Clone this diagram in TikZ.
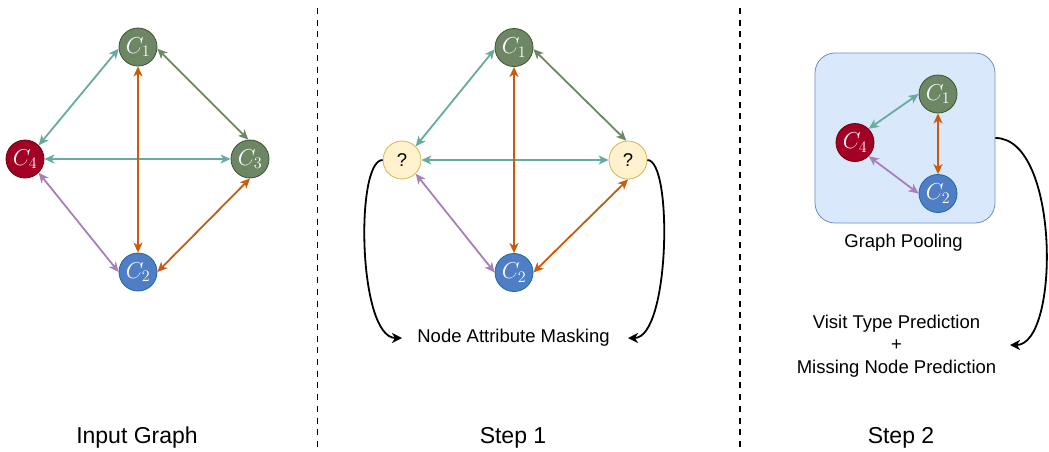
\RequirePackage{fix-cm}
\documentclass[tikz,border=0pt]{standalone}
\usepackage{fontspec}
\setmainfont{Liberation Sans}
\usetikzlibrary{arrows.meta}
\definecolor{gfill}{HTML}{6D8764}
\definecolor{gline}{HTML}{3A5431}
\definecolor{rfill}{HTML}{A20025}
\definecolor{rline}{HTML}{6F0000}
\definecolor{bfill}{HTML}{4F7EC4}
\definecolor{bline}{HTML}{1E66AA}
\definecolor{yfill}{HTML}{FFF2CC}
\definecolor{yline}{HTML}{D6B656}
\definecolor{teal}{HTML}{67AB9F}
\definecolor{orng}{HTML}{CC5A0C}
\definecolor{purp}{HTML}{A680B8}
\definecolor{boxfill}{HTML}{DAE8FC}
\definecolor{boxline}{HTML}{6C8EBF}
\newcommand{\lab}[2]{\fontsize{23}{23}\selectfont$#1_{#2}$}
\tikzset{
  cnode/.style={circle, minimum size=38pt, inner sep=0pt, line width=0.8pt, text=white},
  gnode/.style={cnode, fill=gfill, draw=gline},
  rnode/.style={cnode, fill=rfill, draw=rline},
  bnode/.style={cnode, fill=bfill, draw=bline},
  qnode/.style={cnode, fill=yfill, draw=yline, text=black, font=\fontsize{18.5}{18.5}\selectfont},
  edge/.style={line width=1.8pt, {Stealth[length=10pt,width=9pt,inset=2.8pt]}-{Stealth[length=10pt,width=9pt,inset=2.8pt]}},
  curv/.style={line width=1.8pt, black, -{Stealth[length=10pt,width=10pt,inset=3pt]}},
  lbl/.style={font=\fontsize{18.5}{22.5}\selectfont, inner sep=0pt},
  title/.style={font=\fontsize{23}{23}\selectfont, inner sep=0pt},
  pool/.style={draw=boxline, fill=boxfill, line width=0.8pt, rounded corners=20pt, minimum width=180pt, minimum height=170pt},
  sep/.style={line width=1.3pt, dash pattern=on 6pt off 5.7pt}
}
\begin{document}
\begin{tikzpicture}[x=1pt,y=-1pt]
\useasboundingbox (0,0) rectangle (1049,451);
% separators
\draw[sep] (317.5,8) -- (317.5,451);
\draw[sep] (740,8) -- (740,451);
% panel 1
\node[gnode] (a1) at (138,47) {\lab{C}{1}};
\node[rnode] (a4) at (25,159) {\lab{C}{4}};
\node[gnode] (a3) at (250,159) {\lab{C}{3}};
\node[bnode] (a2) at (138,272) {\lab{C}{2}};
\draw[edge, teal] (a1.185) -- (a4.north east);
\draw[edge, gfill] (a1.355) -- (a3.95);
\draw[edge, teal] (a4.east) -- (a3.west);
\draw[edge, orng] (a1.south) -- (a2.north);
\draw[edge, purp] (a4.south east) -- (a2.west);
\draw[edge, orng] (a3.south) -- (a2.east);
% panel 2
\node[gnode] (b1) at (514,47.5) {\lab{C}{1}};
\node[qnode] (b4) at (402,160) {?};
\node[qnode] (b3) at (628,160) {?};
\node[bnode] (b2) at (514,272.5) {\lab{C}{2}};
\draw[edge, teal] (b1.185) -- (b4.north east);
\draw[edge, gfill] (b1.355) -- (b3.95);
\draw[edge, teal] (b4.east) -- (b3.west);
\draw[edge, orng] (b1.south) -- (b2.north);
\draw[edge, purp] (b4.south east) -- (b2.west);
\draw[edge, orng] (b3.south) -- (b2.east);
\node[lbl] (mask) at (513.5,338) {Node Attribute Masking};
\coordinate (mL) at (402,338);
\coordinate (mR) at (628,338);
\draw[curv] (b4.west) .. controls (355,160) and (358,338) .. (mL);
\draw[curv] (b3.east) .. controls (673,160) and (670,338) .. (mR);
% panel 3
\node[pool] (pool) at (905,138) {};
\node[gnode] (c1) at (938,94) {\lab{C}{1}};
\node[rnode] (c4) at (855,142.5) {\lab{C}{4}};
\node[bnode] (c2) at (938,193.5) {\lab{C}{2}};
\draw[edge, teal] (c1.west) -- (c4.north east);
\draw[edge, orng] (c1.south) -- (c2.north);
\draw[edge, purp] (c4.south east) -- (c2.west);
\node[lbl] (gp) at (903.5,243) {Graph Pooling};
\node[lbl, align=center] (pred) at (896.5,346) {Visit Type Prediction\\+\\Missing Node Prediction};
\coordinate (pR) at (1010,345);
\draw[curv] (pool.east) .. controls (1060,138) and (1060,345) .. (pR);
% titles
\node[title] (t1) at (137,438) {Input Graph};
\node[title] (t2) at (513,438) {Step 1};
\node[title] (t3) at (901,438) {Step 2};
\end{tikzpicture}
\end{document}
